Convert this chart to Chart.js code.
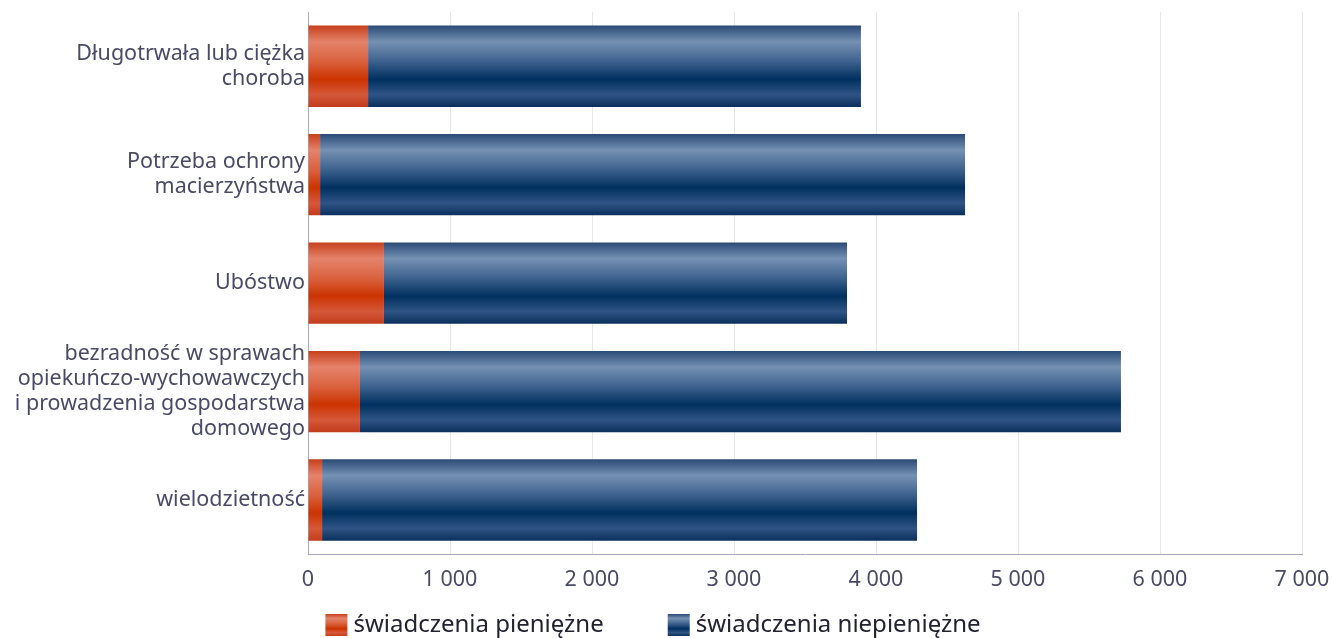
<!DOCTYPE html>
<html>
<head>
<meta charset="utf-8">
<script src="https://cdn.jsdelivr.net/npm/chart.js@4/dist/chart.umd.min.js"></script>
<style>
  html, body { margin: 0; padding: 0; background: #fff; }
  #wrap { width: 1332px; height: 638px; }
</style>
</head>
<body>
<div id="wrap"><canvas id="myChart"></canvas></div>
<script>
const categories = [
    ["Długotrwała lub ciężka", "choroba"],
    ["Potrzeba ochrony", "macierzyństwa"],
    ["Ubóstwo"],
    ["bezradność w sprawach", "opiekuńczo-wychowawczych", "i prowadzenia gospodarstwa", "domowego"],
    ["wielodzietność"]
]
const seriesNames = ["świadczenia pieniężne", "świadczenia niepieniężne"]
const pieniezne = [423, 85, 535, 366, 99]
const niepieniezne = [3471, 4542, 3261, 5359, 4190]
const xTicks = [0, 1000, 2000, 3000, 4000, 5000, 6000, 7000]

const FONT = "'Noto Sans', 'Open Sans', sans-serif"
const orangeStops = ["#c6401c", "#e5836b", "#d9603c", "#cc3300", "#d5583a", "#c23c1c"]
const blueStops = ["#2a4a76", "#7591b3", "#3b5f8c", "#00305f", "#2f5485", "#0b2f5c"]
const stopPos = [0, 0.2, 0.45, 0.66, 0.85, 1]

const barPct = 0.75

function makeGradient(c, top, bottom, stops)
{
    let g = c.createLinearGradient(0, top, 0, bottom)
    stops.forEach((col, i) => g.addColorStop(stopPos[i], col))
    return g
}

// gradient per bar, light band near the top, dark band below middle
function barGradient(stops, fallback)
{
    return (ctx) => {
        let chart = ctx.chart
        let y = chart.scales.y
        if (!chart.chartArea || !y || ctx.dataIndex === undefined) return fallback
        let center = y.getPixelForValue(ctx.dataIndex)
        let half = (y.height / categories.length) * barPct / 2
        return makeGradient(chart.ctx, center - half, center + half, stops)
    }
}

function fmt(v)
{
    return String(v).replace(/\B(?=(\d{3})+(?!\d))/g, ' ')
}

// simple legend drawn under the chart
const bottomLegend = {
    id: 'bottomLegend',
    afterDraw(chart) {
        let c = chart.ctx
        let box = 22, gap = 6, spacing = 64
        let cy = 625
        c.save()
        c.font = "24px " + FONT
        c.textBaseline = 'middle'
        let widths = seriesNames.map(t => c.measureText(t).width)
        let total = widths.reduce((a, w) => a + box + gap + w, 0) + spacing * (seriesNames.length - 1)
        let x = 653 - total / 2
        seriesNames.forEach((name, i) => {
            c.fillStyle = makeGradient(c, cy - box / 2, cy + box / 2, i === 0 ? orangeStops : blueStops)
            c.fillRect(x, cy - box / 2, box, box)
            c.fillStyle = "#222230"
            c.fillText(name, x + box + gap, cy)
            x += box + gap + widths[i] + spacing
        })
        c.restore()
    }
}

document.addEventListener('DOMContentLoaded', () => {
    drawChart()
})

function drawChart()
{
    new Chart("myChart", {
        type: "bar",
        data: {
            labels: categories,
            datasets: [
                {
                    label: seriesNames[0],
                    data: pieniezne,
                    backgroundColor: barGradient(orangeStops, "#d4522c"),
                    borderWidth: 0
                },
                {
                    label: seriesNames[1],
                    data: niepieniezne,
                    backgroundColor: barGradient(blueStops, "#1d4676"),
                    borderWidth: 0
                }
            ]
        },
        plugins: [bottomLegend],
        options: {
            indexAxis: 'y',
            responsive: true,
            maintainAspectRatio: false,
            animation: false,
            categoryPercentage: 1,
            barPercentage: barPct,
            layout: {
                padding: { top: 12, right: 30, left: 0, bottom: 32 }
            },
            plugins: {
                tooltip: { enabled: false },
                legend: { display: false }
            },
            scales: {
                x: {
                    stacked: true,
                    min: 0,
                    max: 7000,
                    afterBuildTicks: (scale) => { scale.ticks = xTicks.map(v => ({ value: v })) },
                    afterFit: (scale) => { scale.paddingRight = 0; scale.paddingLeft = 0 },
                    grid: { color: "#e6e6ee", lineWidth: 1, drawTicks: false },
                    border: { color: "#a9a9c6", width: 1 },
                    ticks: {
                        padding: 13,
                        color: "#4a4a66",
                        font: { family: FONT, size: 21.5 },
                        callback: (v) => fmt(v)
                    }
                },
                y: {
                    stacked: true,
                    afterFit: (scale) => { scale.width = 308; scale.paddingTop = 0; scale.paddingBottom = 0 },
                    grid: { display: false, drawTicks: false },
                    border: { color: "#a9a9c6", width: 1 },
                    ticks: {
                        padding: 3,
                        color: "#4a4a66",
                        font: { family: FONT, size: 21.5, lineHeight: 1.17 }
                    }
                }
            }
        }
    })
}
</script>
</body>
</html>
